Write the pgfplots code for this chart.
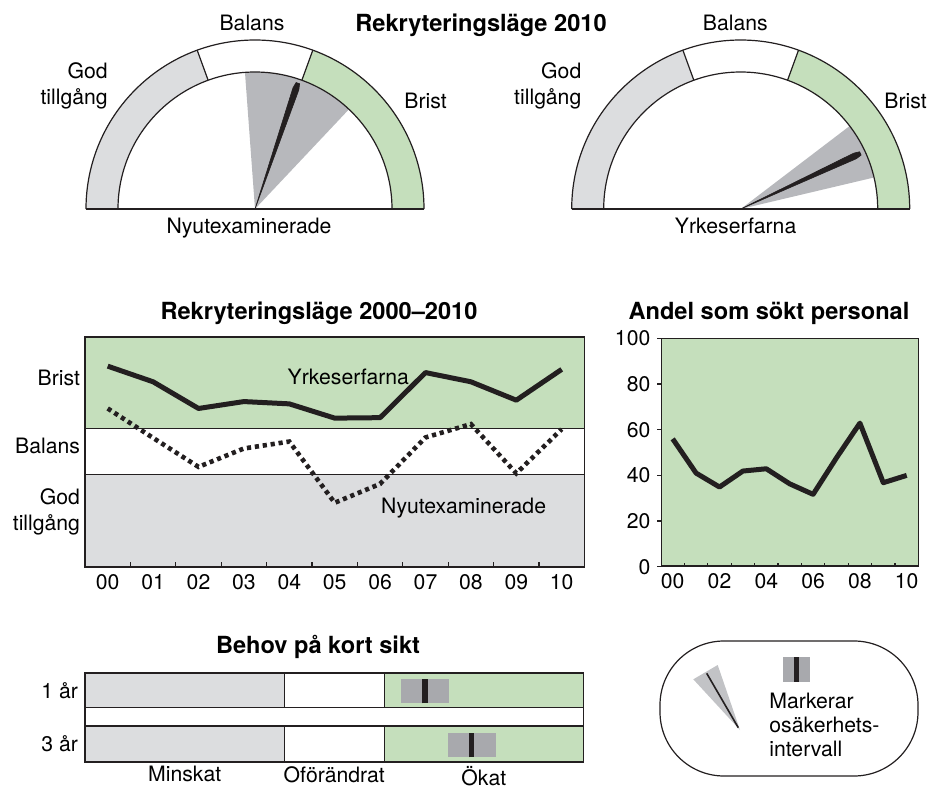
\documentclass[border=0pt]{standalone}
\usepackage{fontspec}
\setmainfont{TeX Gyre Heros}
\usepackage{pgfplots}
\usepgfplotslibrary{polar}
\pgfplotsset{compat=1.18}

\definecolor{cgreen}{RGB}{197,223,188}
\definecolor{cgray}{RGB}{220,221,223}
\definecolor{cwedge}{RGB}{183,184,188}
\definecolor{cmark}{RGB}{168,169,173}
\definecolor{cline}{RGB}{35,31,32}
\newcommand\fs{\fontsize{10.6}{13}\selectfont}
\newcommand\ft{\fontsize{11.8}{14}\selectfont\bfseries}

% one band of a gauge: colour, start angle, end angle
\newcommand\band[3]{%
  \fill[#1] ({169*cos(#2)},{169*sin(#2)}) arc[start angle=#2, end angle=#3, radius=84.5pt]
    -- ({137*cos(#3)},{137*sin(#3)}) arc[start angle=#3, end angle=#2, radius=68.5pt] -- cycle;}
\newcommand\gaugeframe{%
  \band{cgray}{110}{180}\band{white}{70}{110}\band{cgreen}{0}{70}
  \draw[cline, line width=0.6pt] (-169,0) arc[start angle=180, end angle=0, radius=84.5pt];
  \draw[cline, line width=0.6pt] (-137,0) arc[start angle=180, end angle=0, radius=68.5pt];
  \draw[cline, line width=0.6pt] (-169,0) -- (169,0);
  \draw[cline, line width=0.6pt] ({137*cos(110)},{137*sin(110)}) -- ({169*cos(110)},{169*sin(110)});
  \draw[cline, line width=0.6pt] ({137*cos(70)},{137*sin(70)}) -- ({169*cos(70)},{169*sin(70)});}

\pgfplotsset{gauge/.style={hide axis, x=0.5pt, y=0.5pt, xmin=-170, xmax=170,
    ymin=0, ymax=170, clip=false, anchor=south west}}

\pgfplotstableread{
year yrke nyut
0  4.36 3.44
1  4.02 2.80
2  3.44 2.17
3  3.59 2.57
4  3.54 2.72
5  3.23 1.39
6  3.24 1.80
7  4.22 2.81
8  4.02 3.10
9  3.62 2.03
10 4.29 2.99
}\rekr

\pgfplotstableread{
year andel
0  56.0
1  41.0
2  34.9
3  41.9
4  42.9
5  36.3
6  31.7
7  47.7
8  62.9
9  36.8
10 40.0
}\andel

\begin{document}
\begin{tikzpicture}[x=0.5pt, y=-0.5pt]
\useasboundingbox (0,0) rectangle (928,793);

% ---------- gauges 2010
\node[anchor=base, font=\ft] at (481,31.7) {Rekryteringsläge 2010};

\begin{axis}[gauge, at={(42.5pt,-104.5pt)}]
  \addplot[data cs=polar, fill=cwedge, draw=none] coordinates {(0,0) (46.7,145) (70.5,145) (94.2,145)} -- cycle;
  \gaugeframe
  \addplot[data cs=polar, fill=cline, draw=cline, line width=0.3pt, line join=round]
    coordinates {(0,0) (69.8,127) (70.4,133) (72.0,133) (72.6,127)} -- cycle;
\end{axis}
\begin{axis}[gauge, at={(285.35pt,-104.5pt)}]
  \addplot[data cs=polar, fill=cwedge, draw=none] coordinates {(0,0) (13.3,145) (25.3,145) (37.3,145)} -- cycle;
  \gaugeframe
  \addplot[data cs=polar, fill=cline, draw=cline, line width=0.3pt, line join=round]
    coordinates {(0,0) (23.5,126) (24.1,132) (25.7,132) (26.3,126)} -- cycle;
\end{axis}

\begin{scope}[font=\fs, inner sep=0pt]
  \node[anchor=base] at (252,30.7) {Balans};
  \node[anchor=base east] at (108,78.3) {God};
  \node[anchor=base east] at (108,104) {tillgång};
  \node[anchor=base west] at (404,108.3) {Brist};
  \node[anchor=base] at (249,233.3) {Nyutexaminerade};
  \node[anchor=base] at (735.3,30.7) {Balans};
  \node[anchor=base east] at (581.7,78.3) {God};
  \node[anchor=base east] at (581.7,104) {tillgång};
  \node[anchor=base west] at (884,108.3) {Brist};
  \node[anchor=base] at (735.6,233.3) {Yrkeserfarna};
\end{scope}

% ---------- 2000-2010
\node[anchor=base, font=\ft] at (319,319) {Rekryteringsläge 2000–2010};
\begin{axis}[at={(42.5pt,-283.35pt)}, anchor=south west, x=22.7pt, y=23pt,
    xmin=-0.5, xmax=10.5, ymin=0, ymax=5, axis on top,
    axis line style={line width=0.8pt, cline},
    xtick={0,...,10}, xticklabels={00,01,02,03,04,05,06,07,08,09,10},
    minor xtick={0.5,1.5,...,9.5}, major tick length=0pt, minor tick length=2.5pt,
    tick align=inside, xtick pos=bottom, ytick pos=left,
    every tick/.style={cline, line width=0.6pt},
    ytick={1.2,2.62,4.1}, yticklabels={{God\\tillgång},Balans,Brist},
    tick label style={font=\fs}, xticklabel style={yshift=-0.5pt},
    yticklabel style={align=right, xshift=1pt}]
  \fill[cgreen] (-0.5,3) rectangle (10.5,5);
  \fill[cgray] (-0.5,0) rectangle (10.5,2);
  \draw[cline, line width=0.6pt] (-0.5,2) -- (10.5,2) (-0.5,3) -- (10.5,3);
  \addplot[cline, line width=2.5pt, line join=round] table[x=year, y=yrke] {\rekr};
  \addplot[cline, line width=2.3pt, dash pattern=on 2.1pt off 1.9pt] table[x=year, y=nyut] {\rekr};
  \node[font=\fs] at (5.30,4.13) {Yrkeserfarna};
  \node[font=\fs] at (7.84,1.27) {Nyutexaminerade};
\end{axis}

% ---------- Andel som sökt personal
\node[anchor=base, font=\ft] at (769,319) {Andel som sökt personal};
\begin{axis}[at={(330.5pt,-283.35pt)}, anchor=south west, x=11.7pt, y=1.1415pt,
    xmin=-0.5, xmax=10.5, ymin=0, ymax=100,
    axis background/.style={fill=cgreen},
    axis line style={line width=0.5pt, cline},
    xtick={0,2,...,10}, xticklabels={00,02,04,06,08,10},
    ytick={0,20,...,100}, yticklabels={0,20,40,60,80,100},
    minor xtick={0.5,1.5,...,9.5}, minor tick length=2pt, major tick length=1.8pt,
    xtick align=inside, ytick align=outside, xtick pos=bottom, ytick pos=left,
    major x tick style={draw=none},
    every tick/.style={cline, line width=0.6pt},
    tick label style={font=\fs}]
  \draw[cline, line width=1.3pt] (rel axis cs:0,1) -- (rel axis cs:0,0) -- (rel axis cs:1,0);
  \addplot[cline, line width=2.5pt, line join=round] table[x=year, y=andel] {\andel};
\end{axis}

% ---------- Behov på kort sikt
\node[anchor=base, font=\ft] at (318,653.3) {Behov på kort sikt};
\begin{axis}[at={(42.5pt,-380.85pt)}, anchor=south west, x=49.85pt, y=0.5pt,
    xmin=0, xmax=5, ymin=0, ymax=89, axis on top,
    axis line style={line width=0.8pt, cline},
    xtick={1,2.5,4}, xticklabels={Minskat,Oförändrat,Ökat},
    ytick={17.8,71.5}, yticklabels={3 år,1 år},
    major tick length=0pt, tick label style={font=\fs},
    xticklabel style={yshift=-1.2pt, inner sep=1pt}]
  \fill[cgray] (0,0) rectangle (2,35.7);
  \fill[cgreen] (3,0) rectangle (5,35.7);
  \fill[cgray] (0,54) rectangle (2,89);
  \fill[cgreen] (3,54) rectangle (5,89);
  \draw[cline, line width=0.6pt] (0,35.7) -- (5,35.7) (0,54) -- (5,54)
    (2,0) -- (2,35.7) (3,0) -- (3,35.7) (2,54) -- (2,89) (3,54) -- (3,89);
  \addplot[fill=cmark, draw=none] coordinates {(3.17,58.4) (3.65,58.4) (3.65,82.4) (3.17,82.4)} -- cycle;
  \addplot[cline, line width=2.6pt] coordinates {(3.41,58.4) (3.41,82.4)};
  \addplot[fill=cmark, draw=none] coordinates {(3.64,4.4) (4.12,4.4) (4.12,29) (3.64,29)} -- cycle;
  \addplot[cline, line width=2.6pt] coordinates {(3.88,4.4) (3.88,29)};
\end{axis}

% ---------- legend box
\draw[cline, line width=0.6pt, rounded corners=32pt] (660,641) rectangle (918,776);
\fill[cwedge!85] (740,730) -- (693.3,679.3) -- (717.7,665) -- cycle;
\draw[cline, line width=0.8pt] (706.7,673.3) -- (738.3,727.7);
\fill[cmark] (783.3,657.3) rectangle (810,682.3);
\fill[cline] (794.3,657.3) rectangle (799,682.3);
\node[anchor=north west, align=left, inner sep=0pt, font=\fontsize{10.6}{11.8}\selectfont]
  at (769,693) {Markerar\\osäkerhets-\\intervall};
\end{tikzpicture}
\end{document}
